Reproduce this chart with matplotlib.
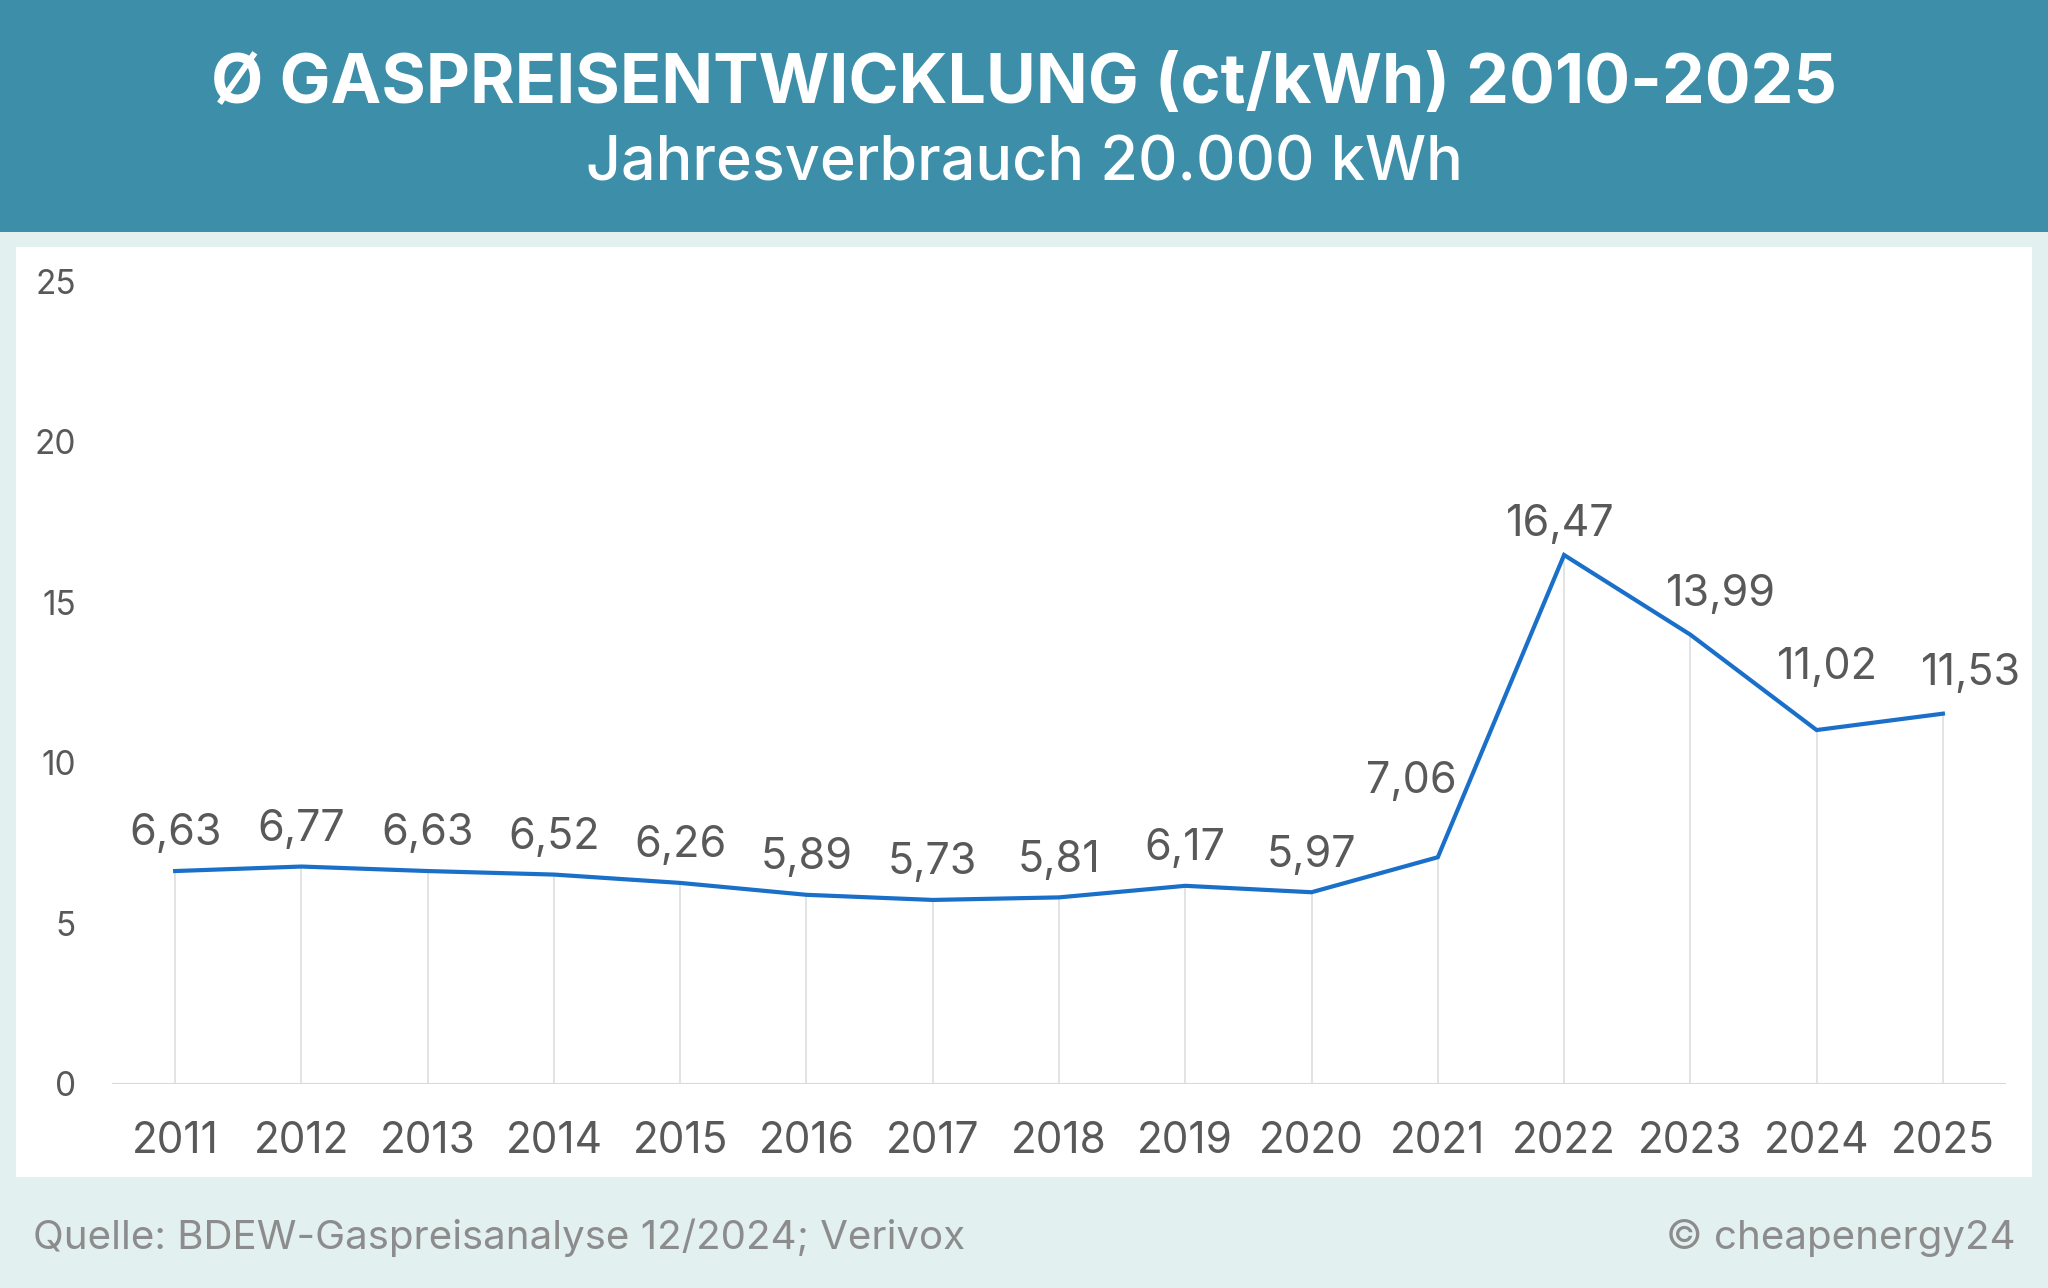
import matplotlib
matplotlib.use('Agg')
import matplotlib.pyplot as plt
from matplotlib.patches import Rectangle

# data
years = ['2011', '2012', '2013', '2014', '2015', '2016', '2017', '2018',
         '2019', '2020', '2021', '2022', '2023', '2024', '2025']
prices = [6.63, 6.77, 6.63, 6.52, 6.26, 5.89, 5.73, 5.81,
          6.17, 5.97, 7.06, 16.47, 13.99, 11.02, 11.53]
y_ticks = [0, 5, 10, 15, 20, 25]

title = '\u00d8 GASPREISENTWICKLUNG (ct/kWh) 2010-2025'
subtitle = 'Jahresverbrauch 20.000 kWh'
source = 'Quelle: BDEW-Gaspreisanalyse 12/2024; Verivox'
credit = '\u00a9 cheapenergy24'

plt.rcParams['font.family'] = ['Inter', 'DejaVu Sans']

header_col = '#3d8ea8'
bg_col = '#e2f0ef'
line_col = '#1a6fc9'
text_col = '#595959'

fig = plt.figure(figsize=(20.48, 12.88), dpi=100, facecolor=bg_col)

# header band and white panel (behind the axes)
fig.patches.append(Rectangle((0, 0.82), 1, 0.18, transform=fig.transFigure,
                             facecolor=header_col, edgecolor='none', zorder=-10))
fig.patches.append(Rectangle((0.0078, 0.0862), 0.9842, 0.722, transform=fig.transFigure,
                             facecolor='white', edgecolor='none', zorder=-10))

fig.text(0.5, 0.934, title, ha='center', va='center', color='white',
         fontsize=49, fontweight='bold')
fig.text(0.5, 0.872, subtitle, ha='center', va='center', color='white',
         fontsize=44, fontweight='medium')

ax = fig.add_axes([0.0547, 0.1584, 0.9248, 0.6234])
ax.set_facecolor('none')
x = list(range(len(years)))

# drop lines
for xi, v in zip(x, prices):
    ax.plot([xi, xi], [0, v], color='#dedede', lw=1.2, zorder=1)
ax.axhline(0, color='#d9d9d9', lw=1.5, zorder=1)

ax.plot(x, prices, color=line_col, lw=3, zorder=3, solid_joinstyle='miter')

# label nudges (points) for a few labels placed like in the original
nudge = {10: (-19, 40), 11: (-3, 7), 12: (22, 14), 13: (8, 30), 14: (20, 14)}
for xi, v in zip(x, prices):
    dx, dy = nudge.get(xi, (0, 12))
    ax.annotate(f'{v:.2f}'.replace('.', ','), (xi, v), xytext=(dx, dy),
                textcoords='offset points', ha='center', va='bottom',
                fontsize=31, color=text_col, zorder=4)

ax.set_xlim(-0.5, len(years) - 0.5)
ax.set_ylim(0, 25)
ax.set_xticks(x)
ax.set_xticklabels(years)
ax.set_yticks(y_ticks)
ax.tick_params(axis='x', length=0, pad=27, labelsize=30.5, labelcolor=text_col)
ax.tick_params(axis='y', length=0, pad=26, labelsize=24, labelcolor=text_col)
for s in ax.spines.values():
    s.set_visible(False)

fig.text(0.016, 0.039, source, ha='left', va='center', color='#8c8c8c', fontsize=29)
fig.text(0.984, 0.039, credit, ha='right', va='center', color='#8c8c8c', fontsize=29)

fig.savefig('out.png', dpi=100, facecolor=bg_col)
